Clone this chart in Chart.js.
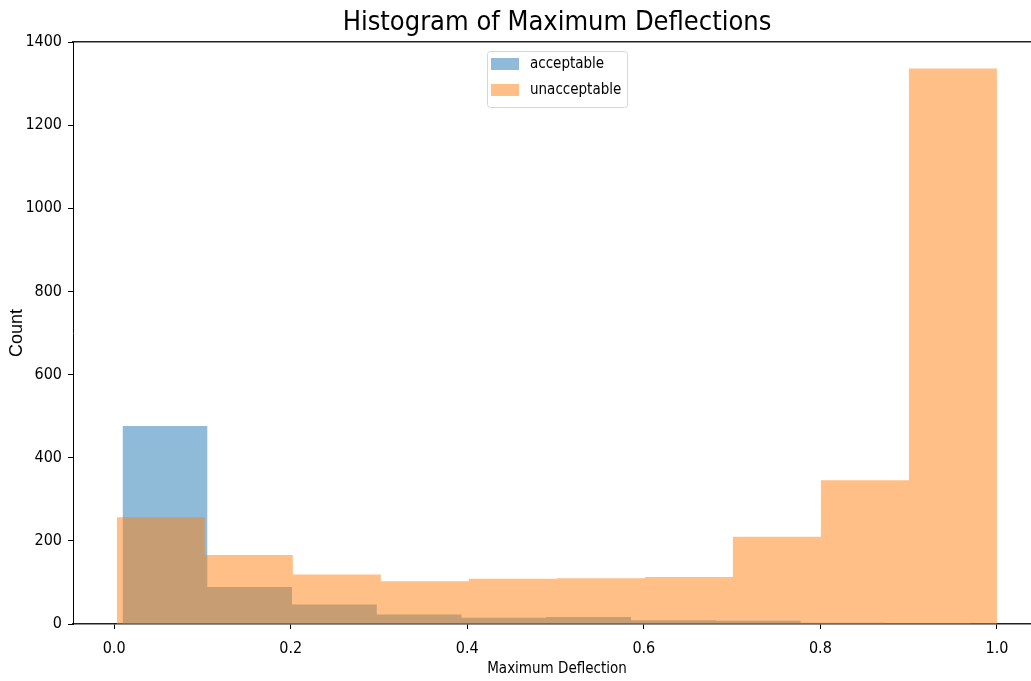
<!DOCTYPE html>
<html>
<head>
<meta charset="utf-8">
<script src="https://cdn.jsdelivr.net/npm/chart.js@4.4.0/dist/chart.umd.min.js"></script>
<style>
  html, body { margin: 0; background: #fff; overflow: hidden; }
  canvas { display: block; }
</style>
</head>
<body>
<!-- canvas is a bit wider than the window: the right spine falls just outside, as in the original crop -->
<canvas id="hist-chart" width="1041" height="681"></canvas>
<script>
// bin edges and counts
var acceptableEdges = [0.0095, 0.1055, 0.2015, 0.2975, 0.3935, 0.4895, 0.5855, 0.6815, 0.7775, 0.8735, 0.9695];
var acceptableCounts = [476, 89, 47, 23, 15, 17, 9, 8, 3, 2];
var unacceptableEdges = [0.003, 0.1027, 0.2024, 0.3021, 0.4018, 0.5015, 0.6012, 0.7009, 0.8006, 0.9003, 1.0];
var unacceptableCounts = [257, 166, 119, 103, 109, 110, 113, 210, 346, 1336];
var xTicks = [0.0, 0.2, 0.4, 0.6, 0.8, 1.0];
var yTicks = [0, 200, 400, 600, 800, 1000, 1200, 1400];
var xRange = [-0.0466, 1.0499];
var yRange = [0, 1400];

var narrow = "'Liberation Sans Narrow', 'DejaVu Sans Condensed', 'Liberation Sans', sans-serif";

// step outline: each edge carries the count of the bin to its right, last edge closes at 0
var toSteps = function (edges, counts) {
    var pts = counts.map((c, i) => ({x: edges[i], y: c}));
    pts.push({x: edges[edges.length - 1], y: 0});
    return pts;
};

// matplotlib style legend inside the axes, upper centre
var innerLegend = {
    id: 'innerLegend',
    afterDatasetsDraw(chart) {
        const ctx = chart.ctx;
        const area = chart.chartArea;
        const w = 140, h = 56;
        const left = Math.round((area.left + area.right) / 2 - w / 2);
        const top = Math.round(area.top + 9);
        ctx.save();
        ctx.beginPath();
        ctx.roundRect(left + 0.5, top + 0.5, w, h, 3);
        ctx.fillStyle = 'rgba(255,255,255,0.8)';
        ctx.fill();
        ctx.strokeStyle = '#d6d6d6';
        ctx.lineWidth = 1;
        ctx.stroke();
        chart.data.datasets.forEach((ds, i) => {
            const y = top + 7 + i * 26;
            ctx.fillStyle = ds.backgroundColor;
            ctx.fillRect(left + 4, y, 28, 12);
            ctx.fillStyle = '#000';
            ctx.font = '15px ' + narrow;
            ctx.textBaseline = 'middle';
            ctx.textAlign = 'left';
            ctx.fillText(ds.label, left + 43, y + 6);
        });
        ctx.restore();
    }
};

var tickGrid = {
    display: true,
    drawOnChartArea: false,
    drawTicks: true,
    tickLength: 5,
    color: '#000',
    lineWidth: 1
};

const ctx = document.getElementById('hist-chart');
Chart.defaults.font.family = narrow;
Chart.defaults.color = '#000';

var chart = new Chart(ctx, {
    type: 'line',
    data: {
        datasets: [{
            label: 'acceptable',
            data: toSteps(acceptableEdges, acceptableCounts),
            backgroundColor: 'rgba(31,119,180,0.5)',
            borderWidth: 0,
            pointRadius: 0,
            stepped: 'before',
            fill: 'origin',
            order: 2
        }, {
            label: 'unacceptable',
            data: toSteps(unacceptableEdges, unacceptableCounts),
            backgroundColor: 'rgba(255,127,14,0.5)',
            borderWidth: 0,
            pointRadius: 0,
            stepped: 'before',
            fill: 'origin',
            order: 1
        }]
    },
    options: {
        responsive: false,
        animation: false,
        devicePixelRatio: 1,
        plugins: {
            legend: {display: false},
            tooltip: {enabled: false},
            title: {
                display: true,
                text: 'Histogram of Maximum Deflections',
                fullSize: false,
                color: '#000',
                font: {size: 27, weight: 'normal', family: narrow},
                padding: {top: 7, bottom: 2.6}
            }
        },
        scales: {
            x: {
                type: 'linear',
                min: xRange[0],
                max: xRange[1],
                afterBuildTicks: s => { s.ticks = xTicks.map(v => ({value: v})); },
                afterFit: s => { s.height = 57; },
                ticks: {
                    font: {size: 16},
                    padding: 10,
                    callback: v => v.toFixed(1)
                },
                grid: tickGrid,
                border: {display: true, color: '#222', width: 1.5},
                title: {
                    display: true,
                    text: 'Maximum Deflection',
                    font: {size: 15},
                    padding: {top: 0, bottom: 3}
                }
            },
            xTop: {
                type: 'linear',
                position: 'top',
                min: xRange[0],
                max: xRange[1],
                afterFit: s => { s.height = 0; },
                ticks: {display: false},
                grid: {display: false, drawTicks: false},
                border: {display: true, color: '#222', width: 1.5}
            },
            y: {
                type: 'linear',
                min: yRange[0],
                max: yRange[1],
                afterBuildTicks: s => { s.ticks = yTicks.map(v => ({value: v})); },
                afterFit: s => { s.width = 73; },
                ticks: {
                    font: {size: 16},
                    padding: 6,
                    callback: v => String(v)
                },
                grid: tickGrid,
                border: {display: true, color: '#000', width: 1},
                title: {
                    display: true,
                    text: 'Count',
                    font: {size: 18, family: "'Liberation Sans', sans-serif"},
                    padding: {top: 6, bottom: 4}
                }
            }
        }
    },
    plugins: [innerLegend]
});
</script>
</body>
</html>
